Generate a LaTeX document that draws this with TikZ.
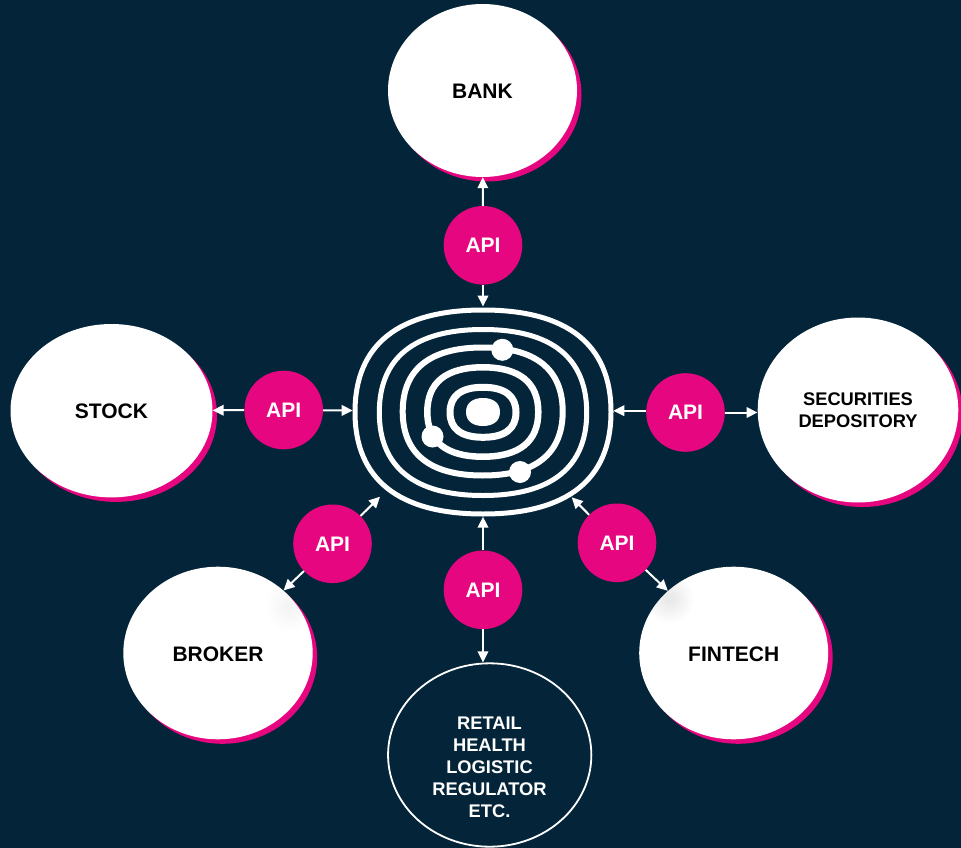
\documentclass[tikz,border=0pt]{standalone}
\usepackage{fontspec}
\setmainfont{Liberation Sans}
\usetikzlibrary{arrows.meta,shapes.geometric}
\definecolor{bgnavy}{HTML}{042539}
\definecolor{apipink}{HTML}{E6067F}
\newcommand{\ringkappa}{0.66}
\newcommand{\Ring}[5]{%
  \pgfmathsetmacro\kx{#3*\ringkappa}\pgfmathsetmacro\ky{#4*\ringkappa}%
  \draw[white,line width=#5] (#1-#3,#2)
    .. controls (#1-#3,#2-\ky) and (#1-\kx,#2-#4) .. (#1,#2-#4)
    .. controls (#1+\kx,#2-#4) and (#1+#3,#2-\ky) .. (#1+#3,#2)
    .. controls (#1+#3,#2+\ky) and (#1+\kx,#2+#4) .. (#1,#2+#4)
    .. controls (#1-\kx,#2+#4) and (#1-#3,#2+\ky) .. (#1-#3,#2) -- cycle;}
\newcommand{\Entity}[7][]{%
  \fill[apipink] (#3+4.5,#4+4.5) ellipse [x radius=#5, y radius=#6];
  \node[entity,minimum width=2*#5 pt,minimum height=2*#6 pt,#1] (#2) at (#3,#4) {#7};}
\tikzset{
  entity/.style={ellipse,fill=white,text=black,inner sep=0pt,align=center,
    font=\fontsize{21}{22}\selectfont\bfseries},
  oneline/.style={text height=17pt,text depth=0pt},
  smalltext/.style={font=\fontsize{18.3}{22}\selectfont\bfseries},
  apinode/.style={circle,fill=apipink,text=white,minimum size=78.6pt,inner sep=0pt,
    font=\fontsize{21}{22}\selectfont\bfseries},
  link/.style={white,line width=2pt,-{Triangle[length=11pt,width=10.5pt]}},
  dot/.style={circle,fill=white,minimum size=22pt,inner sep=0pt},
  patch/.style n args={3}{path picture={
    \foreach \r in {4,6,...,24}{
      \fill[black,opacity=#3] ([shift={(#1,#2)}]path picture bounding box.center) circle (\r pt);}}},
}
\begin{document}
\begin{tikzpicture}[x=1pt,y=-1pt]
\useasboundingbox (0,0) rectangle (961,848);
\fill[bgnavy] (0,0) rectangle (961,848);

% entities
\Entity[oneline]{bank}{482.5}{90.5}{94.5}{86.5}{BANK}
\Entity[text height=16pt,text depth=0pt]{stock}{111.5}{410.7}{101}{86.7}{STOCK}
\Entity[smalltext]{depository}{858}{410}{100.3}{92.5}{SECURITIES\\DEPOSITORY}
\Entity[oneline,patch={72}{-46}{0.004}]{broker}{218}{653}{94.7}{86.3}{BROKER}
\Entity[oneline,patch={-64}{-54}{0.007}]{fintech}{733.7}{653}{94.5}{86.3}{FINTECH}

% outlined entity
\node[ellipse,draw=white,line width=1.8pt,fill=bgnavy,minimum width=203.3pt,minimum height=183.4pt,inner sep=0pt] (retail) at (489.7,755) {};
\node[smalltext,text=white,align=center] (retailtext) at (489.5,767.2) {RETAIL\\HEALTH\\LOGISTIC\\REGULATOR\\ETC.};

% hub
\Ring{483}{412}{128}{102}{5}
\Ring{483}{412.5}{103.7}{83}{5}
\Ring{482.7}{411.5}{80}{64}{6}
\Ring{482.8}{412}{55.5}{44.7}{6.5}
\Ring{483}{412.3}{33}{25}{7}
\fill[white] (466,412) .. controls (466,402) and (474,398) .. (483,398)
  .. controls (492,398) and (500,402) .. (500,412)
  .. controls (500,422) and (492,426) .. (483,426)
  .. controls (474,426) and (466,422) .. (466,412) -- cycle;
\node[dot] (dotA) at (502.3,349.8) {};
\node[dot] (dotB) at (432.5,436.5) {};
\node[dot] (dotC) at (520,472) {};

% hub connection points
\coordinate (hubT) at (483,306.5);
\coordinate (hubB) at (483,516.7);
\coordinate (hubL) at (352.7,410.5);
\coordinate (hubR) at (613.3,410.7);
\coordinate (hubLL) at (380,496.7);
\coordinate (hubLR) at (571.7,497.3);

% API nodes
\node[apinode] (apiT) at (483,245.3) {API};
\node[apinode] (apiL) at (283.7,410) {API};
\node[apinode] (apiR) at (685.5,412.5) {API};
\node[apinode] (apiLL) at (332.5,543.8) {API};
\node[apinode] (apiLR) at (617,542.8) {API};
\node[apinode] (apiB) at (483,589.8) {API};

% connectors
\draw[link] (apiT) -- (bank);
\draw[link] (apiT) -- (hubT);
\draw[link] (apiL) -- (stock);
\draw[link] (apiL) -- (hubL);
\draw[link] (apiR.east) -- (apiR.east -| depository.west);
\draw[link] (apiR.west |- hubR) -- (hubR);
\draw[link] (apiLL) -- (broker);
\draw[link] (apiLL) -- (hubLL);
\draw[link] (apiLR) -- (fintech);
\draw[link] (apiLR) -- (hubLR);
\draw[link] (apiB) -- (hubB);
\draw[link] (apiB.south) -- (apiB.south |- retail.north);
\end{tikzpicture}
\end{document}
